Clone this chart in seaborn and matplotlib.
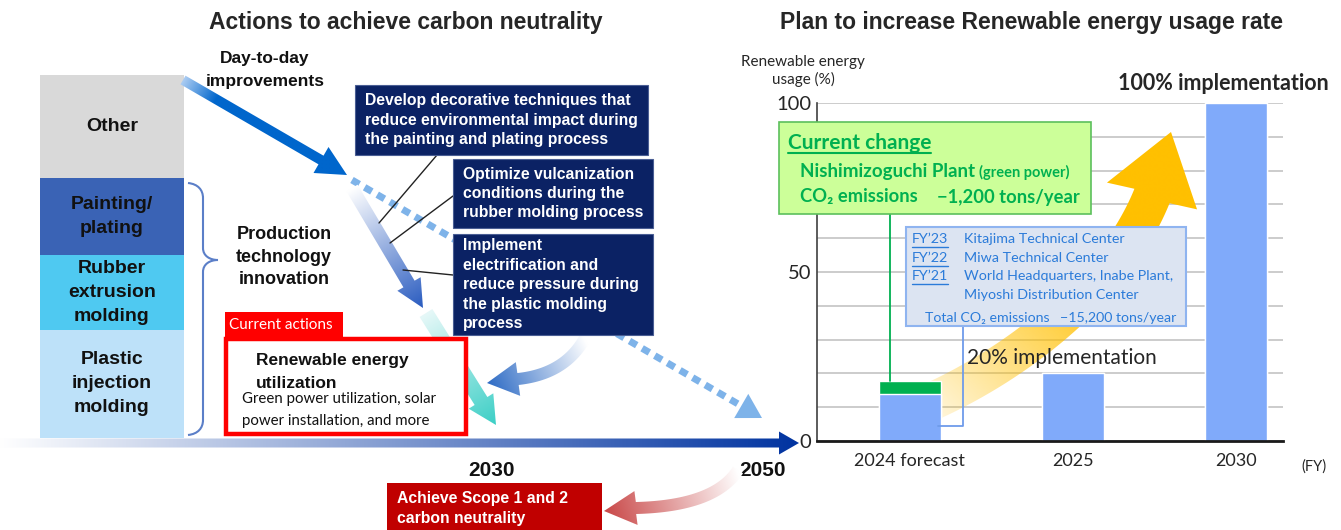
import numpy as np
import pandas as pd
import matplotlib
matplotlib.use("Agg")
import matplotlib.pyplot as plt
import seaborn as sns
from matplotlib.patches import Rectangle, Polygon, PathPatch
from matplotlib.path import Path
from matplotlib.colors import to_rgba
from matplotlib.ticker import MultipleLocator

# ------------------------------
# Data
# ------------------------------
fiscal_years = ["2024 forecast", "2025", "2030"]
renewable_pct = [14.0, 20.0, 100.0]      # blue part of each bar
green_power_pct = [3.8, 0.0, 0.0]        # green power added on top
y_tick_values = [0, 50, 100]

emission_sources = [
    ["Other"],
    ["Painting/", "plating"],
    ["Rubber", "extrusion", "molding"],
    ["Plastic", "injection", "molding"],
]
emission_colors = ["#D9D9D9", "#3A63B5", "#4FC9F1", "#BDE1F9"]

technology_actions = [
    ["Develop decorative techniques that", "reduce environmental impact during", "the painting and plating process"],
    ["Optimize vulcanization", "conditions during the", "rubber molding process"],
    ["Implement", "electrification and", "reduce pressure during", "the plastic molding", "process"],
]
past_fy = ["FY\u201923", "FY\u201922", "FY\u201921", ""]
past_sites = ["Kitajima Technical Center", "Miwa Technical Center",
              "World Headquarters, Inabe Plant,", "Miyoshi Distribution Center"]

LEFT = ["Liberation Sans", "DejaVu Sans"]
RIGHT = ["Lato", "DejaVu Sans"]

sns.set_style("white")
plt.rcParams["font.family"] = LEFT

W, H = 1341, 530
fig = plt.figure(figsize=(W / 100, H / 100), dpi=100)

# ------------------------------
# Bar chart (right)
# ------------------------------
ax = fig.add_axes([817 / W, 1 - 441 / H, 466 / W, 338 / H])
df = pd.DataFrame({"year": fiscal_years,
                   "renewable": renewable_pct,
                   "total": np.add(renewable_pct, green_power_pct)})
sns.barplot(data=df, x="year", y="total", color="#00B050", saturation=1, width=0.38, ax=ax)
sns.barplot(data=df, x="year", y="renewable", color="#80AAFA", saturation=1, width=0.38, ax=ax)
ax.set_yticks(y_tick_values)
ax.yaxis.set_minor_locator(MultipleLocator(10))
ax.grid(axis="y", which="both", color="#C8C8C8", lw=1.3)
ax.set_axisbelow(True)
for s in ["top", "right"]:
    ax.spines[s].set_visible(False)
ax.spines["left"].set_color("#404040")
ax.spines["left"].set_linewidth(1.2)
ax.spines["bottom"].set_color("#1a1a1a")
ax.spines["bottom"].set_linewidth(2)
ax.tick_params(axis="y", which="major", direction="in", length=9, width=1.5,
               color="#404040", labelsize=14.5, pad=4)
ax.tick_params(axis="y", which="minor", length=0)
ax.tick_params(axis="x", length=0, labelsize=13, pad=9)
for lab in ax.get_xticklabels() + ax.get_yticklabels():
    lab.set_family(RIGHT)
ax.set_xlabel("")
ax.set_ylabel("")

# ------------------------------
# Overlay in pixel coordinates
# ------------------------------
ax_o = fig.add_axes([0, 0, 1, 1])
ax_o.axis("off")
ax_o.set_xlim(0, W)
ax_o.set_ylim(H, 0)


def bezier(pts, n=80):
    pts = np.array(pts, dtype=float)
    t = np.linspace(0, 1, n)[:, None]
    if len(pts) == 2:
        return (1 - t) * pts[0] + t * pts[1]
    if len(pts) == 3:
        return (1 - t) ** 2 * pts[0] + 2 * (1 - t) * t * pts[1] + t ** 2 * pts[2]
    return ((1 - t) ** 3 * pts[0] + 3 * (1 - t) ** 2 * t * pts[1]
            + 3 * (1 - t) * t ** 2 * pts[2] + t ** 3 * pts[3])


def grad_arrow(target, pts, width, tip, head_w, c0, c1, a0=1.0, a1=1.0, ramp=1.0, z=3):
    """Arrow (shaft along pts, head ending at tip) filled with a linear gradient."""
    pts = np.asarray(pts, float)
    tang = np.gradient(pts, axis=0)
    tang /= np.hypot(tang[:, 0], tang[:, 1])[:, None]
    nrm = np.stack([-tang[:, 1], tang[:, 0]], axis=1)
    left = pts + nrm * width / 2
    right = pts - nrm * width / 2
    tip = np.array(tip, float)
    d = tip - pts[-1]
    d /= np.hypot(*d)
    n = np.array([-d[1], d[0]])
    poly = np.vstack([left, [pts[-1] + n * head_w / 2, tip, pts[-1] - n * head_w / 2], right[::-1]])
    patch = Polygon(poly, closed=True, fc="none", ec="none", transform=ax_o.transData)
    target.add_patch(patch)
    x0, y0 = np.floor(poly.min(axis=0)) - 1
    x1, y1 = np.ceil(poly.max(axis=0)) + 1
    xs = np.arange(x0, x1 + 1)
    ys = np.arange(y0, y1 + 1)
    X, Y = np.meshgrid(xs, ys)
    v = tip - pts[0]
    f = ((X - pts[0, 0]) * v[0] + (Y - pts[0, 1]) * v[1]) / (v @ v)
    f = np.clip(f / ramp, 0, 1)[..., None]
    r0, r1 = np.array(to_rgba(c0)), np.array(to_rgba(c1))
    img = r0 * (1 - f) + r1 * f
    img[..., 3] = a0 + (a1 - a0) * f[..., 0]
    im = target.imshow(img, extent=(x0, x1, y1, y0), origin="upper", aspect="auto",
                       interpolation="bilinear", transform=ax_o.transData, zorder=z)
    im.set_clip_path(patch)


def head(target, tip, frm, length, width, color, z=3):
    tip = np.array(tip, float)
    d = tip - np.array(frm, float)
    d /= np.hypot(*d)
    n = np.array([-d[1], d[0]])
    base = tip - d * length
    target.add_patch(Polygon([tip, base + n * width / 2, base - n * width / 2], closed=True,
                             fc=color, ec="none", zorder=z, transform=ax_o.transData))


def text_lines(x, yc, lines, step, **kw):
    n = len(lines)
    for i, line in enumerate(lines):
        ax_o.text(x, yc + (i - (n - 1) / 2) * step, line, va="center", **kw)


# titles
ax_o.text(406, 22, "Actions to achieve carbon neutrality", ha="center", va="center",
          fontsize=16.5, fontweight="bold")
ax_o.text(1032, 22, "Plan to increase Renewable energy usage rate", ha="center", va="center",
          fontsize=16.5, fontweight="bold")

# emission source stack
edges = [75, 178, 255, 330, 438]
for i, (lab, col) in enumerate(zip(emission_sources, emission_colors)):
    ax_o.add_patch(Rectangle((40, edges[i]), 144, edges[i + 1] - edges[i], fc=col, ec="none", zorder=1))
    text_lines(112, (edges[i] + edges[i + 1]) / 2, lab, 24, ha="center", fontsize=14,
               fontweight="bold", color="#111111", zorder=2)

# bracket
bverts = [(188, 183), (198, 184), (203, 190), (203, 198), (203, 248),
          (203, 256), (210, 260), (218, 260), (210, 260), (203, 264), (203, 272),
          (203, 420), (203, 428), (198, 434), (188, 435)]
bcodes = [Path.MOVETO, Path.CURVE4, Path.CURVE4, Path.CURVE4, Path.LINETO,
          Path.CURVE4, Path.CURVE4, Path.CURVE4, Path.CURVE4, Path.CURVE4, Path.CURVE4,
          Path.LINETO, Path.CURVE4, Path.CURVE4, Path.CURVE4]
ax_o.add_patch(PathPatch(Path(bverts, bcodes), fc="none", ec="#5B7FC8", lw=1.5, zorder=2))

text_lines(284, 257, ["Production", "technology", "innovation"], 22.5, ha="center",
           fontsize=13, fontweight="bold", color="#111111", zorder=4)
text_lines(265, 70, ["Day-to-day", "improvements"], 23, ha="center",
           fontsize=12.5, fontweight="bold", color="#111111", zorder=4)

# day-to-day arrow + dotted continuation
grad_arrow(ax_o, bezier([(183, 80), (321, 160)]), 10, (347, 175), 30, "#A9CBF2", "#0066CC", ramp=0.2)
ax_o.plot([352, 745], [180, 408], color="#7EB3E9", lw=5, dashes=(1.2, 0.9), solid_capstyle="butt",
          zorder=2)
head(ax_o, (762, 418), (352, 180), 24, 28, "#7EB3E9", z=2)

# technology innovation arrow and renewable energy arrow
grad_arrow(ax_o, bezier([(352, 188), (409, 284)]), 13, (423, 308), 27, "#FFFFFF", "#2A5CC0")
grad_arrow(ax_o, bezier([(426, 313), (481, 401)]), 15, (496, 425), 29, "#E6F8F8", "#3CCFC6")

# navy technology boxes
boxes = [(355, 85, 293, 70, 365), (453, 159, 200, 69, 463), (453, 234, 200, 101, 463)]
for (x0, y0, w, h, tx), lines in zip(boxes, technology_actions):
    ax_o.add_patch(Rectangle((x0, y0), w, h, fc="#0B2264", ec="#4A5E94", lw=0.8, zorder=5))
    text_lines(tx, y0 + h / 2, lines, 19.5, ha="left", fontsize=11.3, fontweight="bold",
               color="white", zorder=6)

# connectors
for (x1, y1), (x2, y2) in [((437, 155), (379, 223)), ((453, 196), (390, 243)), ((453, 275), (403, 270))]:
    ax_o.plot([x1, x2], [y1, y2], color="#222222", lw=1, zorder=4)

# curved arrow from plastic box
grad_arrow(ax_o, bezier([(585, 338), (565, 374), (518, 379)]), 12, (487, 383), 34,
           "#FFFFFF", "#2F6CC5", z=4)

# current actions
ax_o.add_patch(Rectangle((225, 312), 118, 26, fc="#FF0000", ec="none", zorder=5))
ax_o.text(229, 325, "Current actions", va="center", fontsize=11, color="white",
          family=RIGHT, zorder=6)
ax_o.add_patch(Rectangle((226, 339), 240, 95, fc="white", ec="#FF0000", lw=3.2, zorder=5))
text_lines(256, 372, ["Renewable energy", "utilization"], 23, ha="left", fontsize=12.5,
           fontweight="bold", color="#111111", zorder=6)
text_lines(242, 410, ["Green power utilization, solar", "power installation, and more"], 21,
           ha="left", fontsize=10.8, color="#111111", family=RIGHT, zorder=6)

# timeline
grad_arrow(ax_o, bezier([(0, 443), (779, 443)]), 9, (799, 443), 23, "#FFFFFF", "#0033A0", z=2)
ax_o.text(492, 470, "2030", ha="center", va="center", fontsize=15, fontweight="bold", color="#111111")
ax_o.text(763, 470, "2050", ha="center", va="center", fontsize=15, fontweight="bold", color="#111111")

# scope 1 and 2
ax_o.add_patch(Rectangle((387, 483), 215, 47, fc="#C00000", ec="none", zorder=5))
text_lines(397, 508, ["Achieve Scope 1 and 2", "carbon neutrality"], 20, ha="left",
           fontsize=11.3, fontweight="bold", color="white", zorder=6)
grad_arrow(ax_o, bezier([(738, 470), (715, 506), (636, 508)]), 12, (604, 511), 34,
           "#FFFFFF", "#C94848", z=4)

# ------------------------------
# Right side annotations
# ------------------------------
# rising gold arrow (behind bars)
grad_arrow(ax, bezier([(885, 420), (990, 385), (1110, 300), (1152, 196)], n=120), 38,
           (1171, 132), 94, "#FFC000", "#FFC000", a0=0.0, a1=1.0, ramp=0.65, z=0.9)

ax_o.text(803, 71, "Renewable energy\nusage (%)", ha="center", va="center", fontsize=11,
          family=RIGHT, linespacing=1.3)
ax_o.text(1314, 467, "(FY)", ha="center", va="center", fontsize=10.5, family=RIGHT)
ax_o.text(1223, 84, "100% implementation", ha="center", va="center", fontsize=15.5,
          fontweight="bold", family=RIGHT)
ax_o.text(967, 358, "20% implementation", ha="left", va="center", fontsize=15,
          family=RIGHT, zorder=6)

# current change box
GREEN = "#00B050"
ax_o.add_patch(Rectangle((779, 122), 312, 92, fc="#CCFF99", ec="#5CC05C", lw=1.2, zorder=5))
t_cc = ax_o.text(788, 143, "Current change", va="center", fontsize=15, fontweight="bold",
                 color=GREEN, family=RIGHT, zorder=6)
t_plant = ax_o.text(800, 171, "Nishimizoguchi Plant", va="center", fontsize=13.5, fontweight="bold",
                    color=GREEN, family=RIGHT, zorder=6)
t_gp = ax_o.text(985, 172, "(green power)", va="center", fontsize=10.5, fontweight="bold",
                 color=GREEN, family=RIGHT, zorder=6)
ax_o.text(800, 197, "CO\u2082 emissions", va="center", fontsize=13.2, fontweight="bold",
          color=GREEN, family=RIGHT, zorder=6)
ax_o.text(937, 197, "\u22121,200 tons/year", va="center", fontsize=13.2, fontweight="bold",
          color=GREEN, family=RIGHT, zorder=6)
ax_o.plot([890, 890], [214, 381], color=GREEN, lw=1.3, zorder=4)

# previous sites box
BLUE = "#2B7BD9"
ax_o.add_patch(Rectangle((906, 227), 280, 99, fc="#DCE4F2", ec="#8FB4F0", lw=1.5, zorder=5))
fy_texts = []
for i, (fy, site) in enumerate(zip(past_fy, past_sites)):
    y = 239 + i * 18.7
    if fy:
        fy_texts.append(ax_o.text(912, y, fy, va="center", fontsize=10.3, color=BLUE,
                                  family=RIGHT, zorder=6))
    ax_o.text(964, y, site, va="center", fontsize=10.3, color=BLUE, family=RIGHT, zorder=6)
ax_o.text(925, 318, "Total CO\u2082 emissions", va="center", fontsize=10.2, color=BLUE,
          family=RIGHT, zorder=6)
ax_o.text(1060, 318, "\u221215,200 tons/year", va="center", fontsize=10.2, color=BLUE,
          family=RIGHT, zorder=6)
ax_o.plot([963, 963, 938], [327, 426, 426], color="#6E9BEA", lw=1.3, zorder=4)

# fix limits (imshow autoscaling)
ax.set_xlim(-0.57, 2.29)
ax.set_ylim(0, 100)
ax_o.set_xlim(0, W)
ax_o.set_ylim(H, 0)

# underlines and text placement that needs measured extents
fig.canvas.draw()
inv = ax_o.transData.inverted()
bb = t_plant.get_window_extent()
t_gp.set_x(inv.transform((bb.x1, bb.y0))[0] + 4)
for t, col, off, lw in [(t_cc, GREEN, 10, 1.5)] + [(t, BLUE, 8, 1.0) for t in fy_texts]:
    bb = t.get_window_extent()
    (x0, _), (x1, _) = inv.transform([(bb.x0, bb.y0), (bb.x1, bb.y0)])
    y = t.get_position()[1] + off
    ax_o.plot([x0, x1], [y, y], color=col, lw=lw, zorder=6)

fig.savefig("out.png", dpi=100)
